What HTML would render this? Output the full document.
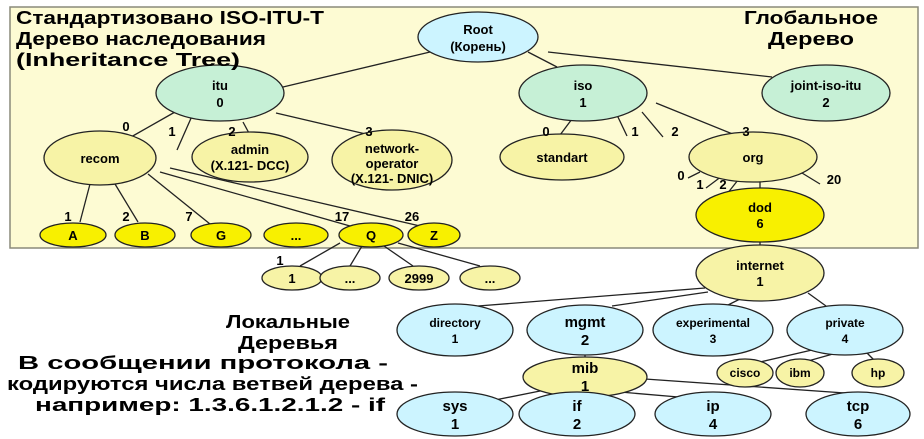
<!DOCTYPE html>
<html><head><meta charset="utf-8"><style>
html,body{margin:0;padding:0;background:#fff;width:924px;height:439px;overflow:hidden}
svg{display:block}
text{font-family:"Liberation Sans",Arial,sans-serif;font-weight:bold;fill:#000}
</style></head><body>
<svg width="924" height="439" viewBox="0 0 924 439">
<rect x="10" y="7" width="908" height="241" fill="#fdfbd3" stroke="#8a8a7a" stroke-width="1.5"/>
<g stroke="#222" stroke-width="1.3" fill="none">
<line x1="430" y1="52" x2="283" y2="87"/>
<line x1="528" y1="52" x2="557" y2="67"/>
<line x1="548" y1="52" x2="772" y2="77"/>
<line x1="175" y1="112" x2="131" y2="137"/>
<line x1="192" y1="116" x2="177" y2="150"/>
<line x1="243" y1="122" x2="250" y2="135"/>
<line x1="276" y1="113" x2="370" y2="135"/>
<line x1="90" y1="184" x2="80" y2="222"/>
<line x1="115" y1="184" x2="138" y2="222"/>
<line x1="148" y1="174" x2="210" y2="224"/>
<line x1="160" y1="172" x2="350" y2="226"/>
<line x1="170" y1="168" x2="420" y2="226"/>
<line x1="575" y1="115" x2="560" y2="135"/>
<line x1="617" y1="115" x2="627" y2="136"/>
<line x1="642" y1="112" x2="663" y2="137"/>
<line x1="656" y1="103" x2="740" y2="137"/>
<line x1="700" y1="172" x2="688" y2="178"/>
<line x1="722" y1="176" x2="706" y2="188"/>
<line x1="738" y1="180" x2="727" y2="194"/>
<line x1="802" y1="173" x2="820" y2="184"/>
<line x1="760" y1="180" x2="760" y2="248"/>
<line x1="340" y1="243" x2="300" y2="266"/>
<line x1="362" y1="246" x2="350" y2="266"/>
<line x1="384" y1="246" x2="413" y2="266"/>
<line x1="398" y1="243" x2="480" y2="266"/>
<line x1="705" y1="288" x2="478" y2="306"/>
<line x1="708" y1="292" x2="612" y2="306"/>
<line x1="740" y1="299" x2="722" y2="308"/>
<line x1="808" y1="293" x2="826" y2="306"/>
<line x1="812" y1="350" x2="760" y2="362"/>
<line x1="840" y1="352" x2="808" y2="361"/>
<line x1="866" y1="352" x2="876" y2="362"/>
<line x1="585" y1="354" x2="585" y2="360"/>
<line x1="545" y1="390" x2="495" y2="400"/>
<line x1="565" y1="396" x2="560" y2="396"/>
<line x1="620" y1="392" x2="690" y2="398"/>
<line x1="645" y1="379" x2="845" y2="393"/>
</g>
<g stroke="#222" stroke-width="1.3">
<ellipse cx="478" cy="37" rx="60" ry="25" fill="#ccf4ff"/>
<ellipse cx="220" cy="93" rx="64" ry="28" fill="#c6f0d6"/>
<ellipse cx="583" cy="93" rx="64" ry="28" fill="#c6f0d6"/>
<ellipse cx="826" cy="93" rx="64" ry="28" fill="#c6f0d6"/>
<ellipse cx="100" cy="158" rx="56" ry="27" fill="#f7f3a6"/>
<ellipse cx="250" cy="157" rx="58" ry="25" fill="#f7f3a6"/>
<ellipse cx="392" cy="160" rx="60" ry="30" fill="#f7f3a6"/>
<ellipse cx="562" cy="157" rx="62" ry="23" fill="#f7f3a6"/>
<ellipse cx="753" cy="157" rx="64" ry="25" fill="#f7f3a6"/>
<ellipse cx="760" cy="215" rx="64" ry="27" fill="#f8f000"/>
<ellipse cx="73" cy="235" rx="33" ry="12" fill="#f8f000"/>
<ellipse cx="145" cy="235" rx="30" ry="12" fill="#f8f000"/>
<ellipse cx="221" cy="235" rx="30" ry="12" fill="#f8f000"/>
<ellipse cx="296" cy="235" rx="32" ry="12" fill="#f8f000"/>
<ellipse cx="371" cy="235" rx="32" ry="12" fill="#f8f000"/>
<ellipse cx="434" cy="235" rx="26" ry="12" fill="#f8f000"/>
<ellipse cx="292" cy="278" rx="30" ry="12" fill="#f7f3a6"/>
<ellipse cx="350" cy="278" rx="30" ry="12" fill="#f7f3a6"/>
<ellipse cx="419" cy="278" rx="30" ry="12" fill="#f7f3a6"/>
<ellipse cx="490" cy="278" rx="30" ry="12" fill="#f7f3a6"/>
<ellipse cx="760" cy="273" rx="64" ry="28" fill="#f7f3a6"/>
<ellipse cx="455" cy="330" rx="58" ry="26" fill="#ccf4ff"/>
<ellipse cx="585" cy="330" rx="58" ry="25" fill="#ccf4ff"/>
<ellipse cx="713" cy="330" rx="60" ry="26" fill="#ccf4ff"/>
<ellipse cx="845" cy="330" rx="58" ry="25" fill="#ccf4ff"/>
<ellipse cx="745" cy="373" rx="28" ry="14" fill="#f7f3a6"/>
<ellipse cx="800" cy="373" rx="24" ry="14" fill="#f7f3a6"/>
<ellipse cx="878" cy="373" rx="26" ry="14" fill="#f7f3a6"/>
<ellipse cx="585" cy="377" rx="62" ry="20" fill="#f7f3a6"/>
<ellipse cx="455" cy="414" rx="58" ry="22" fill="#ccf4ff"/>
<ellipse cx="577" cy="414" rx="58" ry="22" fill="#ccf4ff"/>
<ellipse cx="713" cy="414" rx="58" ry="22" fill="#ccf4ff"/>
<ellipse cx="858" cy="414" rx="52" ry="22" fill="#ccf4ff"/>
</g>
<g font-size="18">
<text x="16" y="24" textLength="308" lengthAdjust="spacingAndGlyphs">Стандартизовано ISO-ITU-T</text>
<text x="16" y="45" textLength="250" lengthAdjust="spacingAndGlyphs">Дерево наследования</text>
<text x="16" y="66" textLength="224" lengthAdjust="spacingAndGlyphs">(Inheritance Tree)</text>
<text x="744" y="24" textLength="134" lengthAdjust="spacingAndGlyphs">Глобальное</text>
<text x="768" y="45" textLength="86" lengthAdjust="spacingAndGlyphs">Дерево</text>
<text x="226" y="328" textLength="124" lengthAdjust="spacingAndGlyphs">Локальные</text>
<text x="238" y="349" textLength="100" lengthAdjust="spacingAndGlyphs">Деревья</text>
<text x="18" y="369" textLength="370" lengthAdjust="spacingAndGlyphs">В сообщении протокола -</text>
<text x="7" y="390" textLength="411" lengthAdjust="spacingAndGlyphs">кодируются числа ветвей дерева -</text>
<text x="35" y="411" textLength="350" lengthAdjust="spacingAndGlyphs">например: 1.3.6.1.2.1.2 - if</text>
</g>
<g font-size="13" text-anchor="middle">
<text x="478" y="34">Root</text><text x="478" y="51">(Корень)</text>
<text x="220" y="90">itu</text><text x="220" y="107">0</text>
<text x="583" y="90">iso</text><text x="583" y="107">1</text>
<text x="826" y="90">joint-iso-itu</text><text x="826" y="107">2</text>
<text x="100" y="163">recom</text>
<text x="250" y="154">admin</text><text x="250" y="170">(X.121- DCC)</text>
<text x="392" y="153">network-</text><text x="392" y="168">operator</text><text x="392" y="183">(X.121- DNIC)</text>
<text x="562" y="162">standart</text>
<text x="753" y="162">org</text>
<text x="760" y="212">dod</text><text x="760" y="228">6</text>
<text x="73" y="240">A</text><text x="145" y="240">B</text><text x="221" y="240">G</text>
<text x="296" y="240">...</text><text x="371" y="240">Q</text><text x="434" y="240">Z</text>
<text x="292" y="283">1</text><text x="350" y="283">...</text><text x="419" y="283">2999</text><text x="490" y="283">...</text>
<text x="760" y="270">internet</text><text x="760" y="286">1</text>
<text x="455" y="327" font-size="12">directory</text><text x="455" y="343" font-size="12">1</text>
<text x="585" y="327" font-size="15">mgmt</text><text x="585" y="345" font-size="15">2</text>
<text x="713" y="327" font-size="12">experimental</text><text x="713" y="343" font-size="12">3</text>
<text x="845" y="327" font-size="12">private</text><text x="845" y="343" font-size="12">4</text>
<text x="745" y="377" font-size="12">cisco</text><text x="800" y="377" font-size="12">ibm</text><text x="878" y="377" font-size="12">hp</text>
<text x="585" y="373" font-size="15">mib</text><text x="585" y="391" font-size="15">1</text>
<text x="455" y="411" font-size="15">sys</text><text x="455" y="429" font-size="15">1</text>
<text x="577" y="411" font-size="15">if</text><text x="577" y="429" font-size="15">2</text>
<text x="713" y="411" font-size="15">ip</text><text x="713" y="429" font-size="15">4</text>
<text x="858" y="411" font-size="15">tcp</text><text x="858" y="429" font-size="15">6</text>
<text x="126" y="131">0</text><text x="172" y="136">1</text><text x="232" y="136">2</text><text x="369" y="136">3</text>
<text x="68" y="221">1</text><text x="126" y="221">2</text><text x="189" y="221">7</text>
<text x="342" y="221">17</text><text x="412" y="221">26</text>
<text x="280" y="265">1</text>
<text x="546" y="136">0</text><text x="635" y="136">1</text><text x="675" y="136">2</text><text x="746" y="136">3</text>
<text x="681" y="180">0</text><text x="700" y="189">1</text><text x="723" y="189">2</text><text x="834" y="184">20</text>
</g>
</svg>
</body></html>
